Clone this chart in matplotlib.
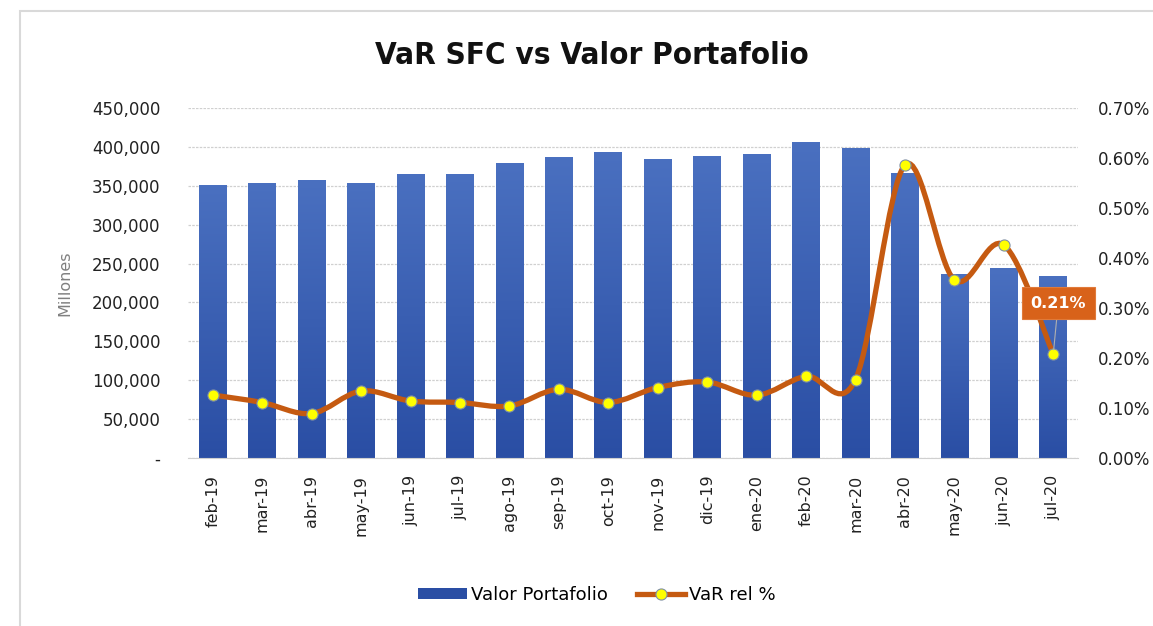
import matplotlib
matplotlib.use("Agg")
import matplotlib.pyplot as plt
import numpy as np
from matplotlib.path import Path
from matplotlib.patches import PathPatch, Rectangle
from matplotlib.ticker import FuncFormatter, MultipleLocator
from matplotlib.lines import Line2D

MONTHS = [
    "feb-19", "mar-19", "abr-19", "may-19", "jun-19", "jul-19", "ago-19",
    "sep-19", "oct-19", "nov-19", "dic-19", "ene-20", "feb-20", "mar-20",
    "abr-20", "may-20", "jun-20", "jul-20",
]
VALOR_PORTAFOLIO = [
    350500, 353600, 357900, 353600, 365200, 365200, 379400, 386600, 393600,
    384000, 388800, 391400, 406000, 398700, 366500, 236700, 244000, 234000,
]
VAR_REL = [
    0.126, 0.111, 0.089, 0.134, 0.114, 0.111, 0.104, 0.1375, 0.111,
    0.141, 0.152, 0.1255, 0.1636, 0.157, 0.586, 0.356, 0.426, 0.208,
]

BAR_TOP = "#4a70c0"
BAR_BOTTOM = "#2a4ea4"
LINE_COLOR = "#c55a11"
MARKER_COLOR = "#ffff00"
LABEL_BOX = "#d8621a"


def smooth_path(xs, ys, tension=1 / 6):
    """Bezier path through the points, like Excel's smoothed line."""
    pts = np.column_stack([xs, ys])
    n = len(pts)
    verts = [pts[0]]
    codes = [Path.MOVETO]
    for i in range(n - 1):
        p0 = pts[max(i - 1, 0)]
        p1 = pts[i]
        p2 = pts[i + 1]
        p3 = pts[min(i + 2, n - 1)]
        c1 = p1 + (p2 - p0) * tension
        c2 = p2 - (p3 - p1) * tension
        verts += [c1, c2, p2]
        codes += [Path.CURVE4] * 3
    return Path(verts, codes)


fig = plt.figure(figsize=(11.53, 6.26), dpi=100)
fig.patch.set_facecolor("white")

# chart area border
fig.patches.append(
    Rectangle((20 / 1153, -0.1), 1.2, 1 - 11 / 626 + 0.1,
              transform=fig.transFigure, fill=False,
              edgecolor="#d9d9d9", linewidth=1.5)
)

ax = fig.add_axes([188 / 1153, 1 - 458 / 626, 890 / 1153, 350 / 626])
x = np.arange(len(MONTHS))

bars = ax.bar(x, VALOR_PORTAFOLIO, width=0.56, color=BAR_BOTTOM,
              zorder=2, label="Valor Portafolio")

# vertical gradient in each bar
grad = np.linspace(0, 1, 256).reshape(-1, 1)
cmap = matplotlib.colors.LinearSegmentedColormap.from_list(
    "bar", [BAR_BOTTOM, BAR_TOP])
for b in bars:
    x0, w, h = b.get_x(), b.get_width(), b.get_height()
    im = ax.imshow(grad, cmap=cmap, origin="lower", aspect="auto",
                   extent=[x0, x0 + w, 0, h], zorder=2.1)
    im.set_clip_path(b)

ax.set_xlim(-0.5, len(MONTHS) - 0.5)
ax.set_ylim(0, 450000)
ax.yaxis.set_major_locator(MultipleLocator(50000))
ax.yaxis.set_major_formatter(
    FuncFormatter(lambda v, p: "-" if v == 0 else f"{v:,.0f}"))
ax.grid(True, axis="y", color="#d0d0d0", linestyle=(0, (2, 1)),
        linewidth=0.9, zorder=0)
ax.set_axisbelow(True)
for s in ["top", "right", "left"]:
    ax.spines[s].set_visible(False)
ax.spines["bottom"].set_color("#d0d0d0")
ax.tick_params(axis="both", length=0, labelsize=12, colors="#222222")
ax.tick_params(axis="y", pad=20)
ax.set_xticks(x)
ax.set_xticklabels(MONTHS, rotation=90, fontsize=11.5)
ax.tick_params(axis="x", pad=12)
ax.set_ylabel("Millones", color="#808080", fontsize=11.5, labelpad=14)

ax2 = ax.twinx()
ax2.set_ylim(0, 0.70)
ax2.yaxis.set_major_locator(MultipleLocator(0.10))
ax2.yaxis.set_major_formatter(FuncFormatter(lambda v, p: f"{v:.2f}%"))
for s in ax2.spines.values():
    s.set_visible(False)
ax2.tick_params(axis="y", length=0, labelsize=12, colors="#222222", pad=14)

path = smooth_path(x, VAR_REL)
ax2.add_patch(PathPatch(path, facecolor="none", edgecolor=LINE_COLOR,
                        linewidth=3.8, capstyle="round", zorder=3))
ax2.plot(x, VAR_REL, linestyle="none", marker="o", markersize=8,
         markerfacecolor=MARKER_COLOR, markeredgecolor="#7f8fa6",
         markeredgewidth=0.8, zorder=4)

# data label for last point
last = len(MONTHS) - 1
ax2.annotate(
    f"{VAR_REL[last]:.2f}%", xy=(x[last], VAR_REL[last]),
    xytext=(x[last] + 0.1, 0.31), ha="center", va="center",
    fontsize=11.5, fontweight="bold", color="white",
    bbox=dict(boxstyle="square,pad=0.55", facecolor=LABEL_BOX,
              edgecolor="#e07a3a", linewidth=0.8),
    arrowprops=dict(arrowstyle="-", color="#b0b0b0", linewidth=0.8,
                    shrinkA=0, shrinkB=3),
    zorder=5,
)

fig.text(592 / 1153, 1 - 55 / 626, "VaR SFC vs Valor Portafolio",
         ha="center", va="center", fontsize=22.5, fontweight="bold",
         color="#111111", family="DejaVu Sans", fontstretch="condensed")

handles = [
    Rectangle((0, 0), 1, 1, facecolor=BAR_BOTTOM),
    Line2D([0], [0], color=LINE_COLOR, linewidth=3.8, marker="o",
           markersize=8, markerfacecolor=MARKER_COLOR,
           markeredgecolor="#7f8fa6", markeredgewidth=0.8),
]
fig.legend(handles, ["Valor Portafolio", "VaR rel %"], loc="center",
           bbox_to_anchor=(597 / 1153, 1 - 595 / 626), ncol=2,
           frameon=False, fontsize=13, handlelength=2.7, handleheight=0.6,
           columnspacing=1.6, handletextpad=0.2)

fig.savefig("out.png", dpi=100, facecolor="white")
